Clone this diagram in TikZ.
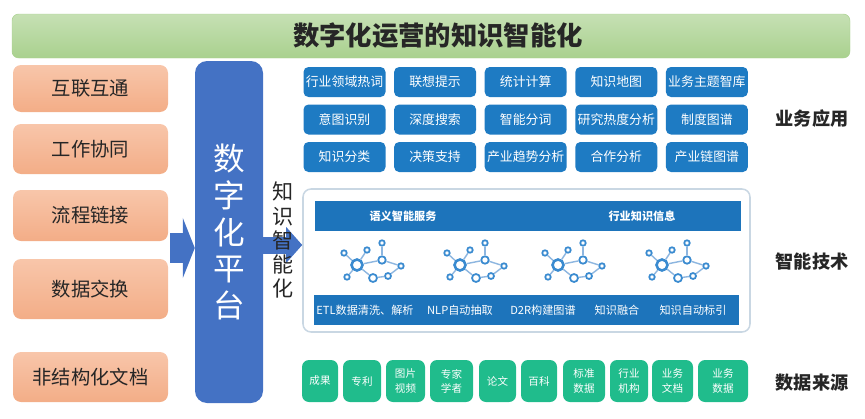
\documentclass[tikz,border=0pt]{standalone}
\usepackage{fontspec}
\setmainfont{Noto Sans CJK SC}
\usetikzlibrary{arrows.meta}
\definecolor{dkgreen}{HTML}{A9D18E}
\definecolor{dkgreenlt}{HTML}{C6E0B4}
\definecolor{dkorange}{HTML}{F3AD87}
\definecolor{dkorangelt}{HTML}{F8C6AA}
\definecolor{dkblue}{HTML}{4472C4}
\definecolor{dkapp}{HTML}{1E7BC3}
\definecolor{dkband}{HTML}{1D74BB}
\definecolor{dkicon}{HTML}{3A8BD0}
\definecolor{dkline}{HTML}{8DB6E0}
\definecolor{dkrim}{HTML}{C9D7E3}
\definecolor{dkteal}{HTML}{20BC8C}
\definecolor{dkink}{HTML}{262626}
\newcommand{\pxu}{0.03cm}
\newcommand{\dkfont}[2]{\fontsize{#1}{#2}\selectfont}
\newcommand{\dknet}[2]{%
  \node[nethub] (#1h) at (#2,265){};
  \foreach \n/\x/\y/\s in {a/-13/-12/5.5,b/10/-15/5.5,c/-10/12/5.5,t/25/-22/5.5,m/25/-5/7.5,r/44/1/5.5,d/16/13/8,e/31/11/6}{%
    \node[netdot,minimum size=\s*\pxu] (#1\n) at (#2+\x,265+\y){};}
  \foreach \u/\v in {h/a,h/b,h/c,h/m,h/d,m/t,m/r,r/e,e/d}{\draw[netedge] (#1\u) -- (#1\v);}}

\begin{document}
\begin{tikzpicture}[x=\pxu,y=-\pxu,
  titlebar/.style={rounded corners=0.2cm,top color=dkgreenlt,bottom color=dkgreen,draw=dkgreen,
    minimum width=838*\pxu,minimum height=44*\pxu},
  srcbox/.style={rounded corners=0.24cm,top color=dkorangelt,bottom color=dkorange,text=dkink,
    font=\dkfont{16.5}{20},minimum width=155*\pxu},
  platbox/.style={rounded corners=0.36cm,fill=dkblue,text=white,align=center,font=\dkfont{27}{31.4}},
  appbox/.style={rounded corners=0.15cm,fill=dkapp,text=white,font=\dkfont{11}{13},inner sep=0,
    minimum width=82*\pxu,minimum height=30*\pxu},
  panelbox/.style={rounded corners=0.24cm,draw=dkrim,line width=1.3pt,fill=white},
  bandbox/.style={fill=dkband,minimum height=30*\pxu},
  bandtext/.style={text=white,font=\dkfont{9.5}{11},inner sep=0},
  databox/.style={rounded corners=0.21cm,fill=dkteal,text=white,align=center,font=\dkfont{9}{12},
    inner sep=0,minimum height=42*\pxu},
  sidelabel/.style={font=\dkfont{15.5}{18}\bfseries,text=dkink},
  netdot/.style={circle,draw=dkicon,fill=white,line width=1.5pt,inner sep=0},
  nethub/.style={netdot,line width=2.2pt,minimum size=11*\pxu},
  netedge/.style={dkline,line width=1.2pt}]
  \useasboundingbox (0,0) rectangle (865,419);
  \node[titlebar] (bar) at (431,36){};
  \node[font=\dkfont{22.5}{26}\bfseries,text=dkink] (ttl) at (438,36){数字化运营的知识智能化};
  \foreach \y/\h/\t [count=\i] in {88.5/47/互联互通,149/50/工作协同,215.5/51/流程链接,289/60/数据交换,377/50/非结构化文档}{%
    \node[srcbox,minimum height=\h*\pxu] (src\i) at (90.5,\y){\t};}
  \node[platbox,minimum width=68*\pxu,minimum height=342*\pxu] (plat) at (229,232){数\\字\\化\\平\\台};
  \foreach \r/\c/\t in {0/0/行业领域热词,0/1/联想提示,0/2/统计计算,0/3/知识地图,0/4/业务主题智库,
    1/0/意图识别,1/1/深度搜索,1/2/智能分词,1/3/研究热度分析,1/4/制度图谱,
    2/0/知识分类,2/1/决策支持,2/2/产业趋势分析,2/3/合作分析,2/4/产业链图谱}{%
    \node[appbox] (app\r\c) at (344.5+90.6*\c,82+37.5*\r){\t};}
  \node[panelbox,minimum width=447*\pxu,minimum height=143*\pxu] (tech) at (526.5,260.5){};
  \node[bandbox,minimum width=426*\pxu] (band1) at (528,216){};
  \node[bandtext,font=\dkfont{9.5}{11}\bfseries] (svc) at (403,216){语义智能服务};
  \node[bandtext,font=\dkfont{9.5}{11}\bfseries] (ind) at (642,216){行业知识信息};
  \foreach \k/\hx in {1/357,2/460,3/558,4/662}{\dknet{n\k}{\hx}}
  \node[bandbox,minimum width=425*\pxu] (band2) at (526.5,310){};
  \foreach \x/\t [count=\i] in {365/ETL数据清洗、解析,460/NLP自动抽取,543/D2R构建图谱,617/知识融合,693/知识自动标引}{%
    \node[bandtext] (step\i) at (\x,310){\t};}
  \foreach \a/\b/\t [count=\i] in {302/338/成果,343/381/专利,386/425/图片\\视频,430/473/专家\\学者,479/516/论文,
    521/557/百科,563/605/标准\\数据,610/648/行业\\机构,652/693/业务\\文档,698/748/业务\\数据}{%
    \node[databox,minimum width={(\b-\a)*\pxu}] (data\i) at ({(\a+\b)/2},381){\t};}
  \foreach \y/\t [count=\i] in {119/业务应用,262/智能技术,383/数据来源}{%
    \node[sidelabel] (layer\i) at (812,\y){\t};}
  \coordinate (inL) at (170,248);
  \coordinate (outY) at (0,245);
  \draw[dkblue,line width=0.9cm,-{Triangle[width=1.8cm,length=0.36cm]}] (inL) -- (inL -| plat.west);
  \draw[dkblue,line width=0.51cm,-{Triangle[width=1.05cm,length=0.48cm]}] (plat.east |- outY) -- (tech.west |- outY);
  \node[align=center,text=dkink,font=\dkfont{18}{20.5}] (kz) at (283,240){知\\识\\智\\能\\化};
\end{tikzpicture}
\end{document}
